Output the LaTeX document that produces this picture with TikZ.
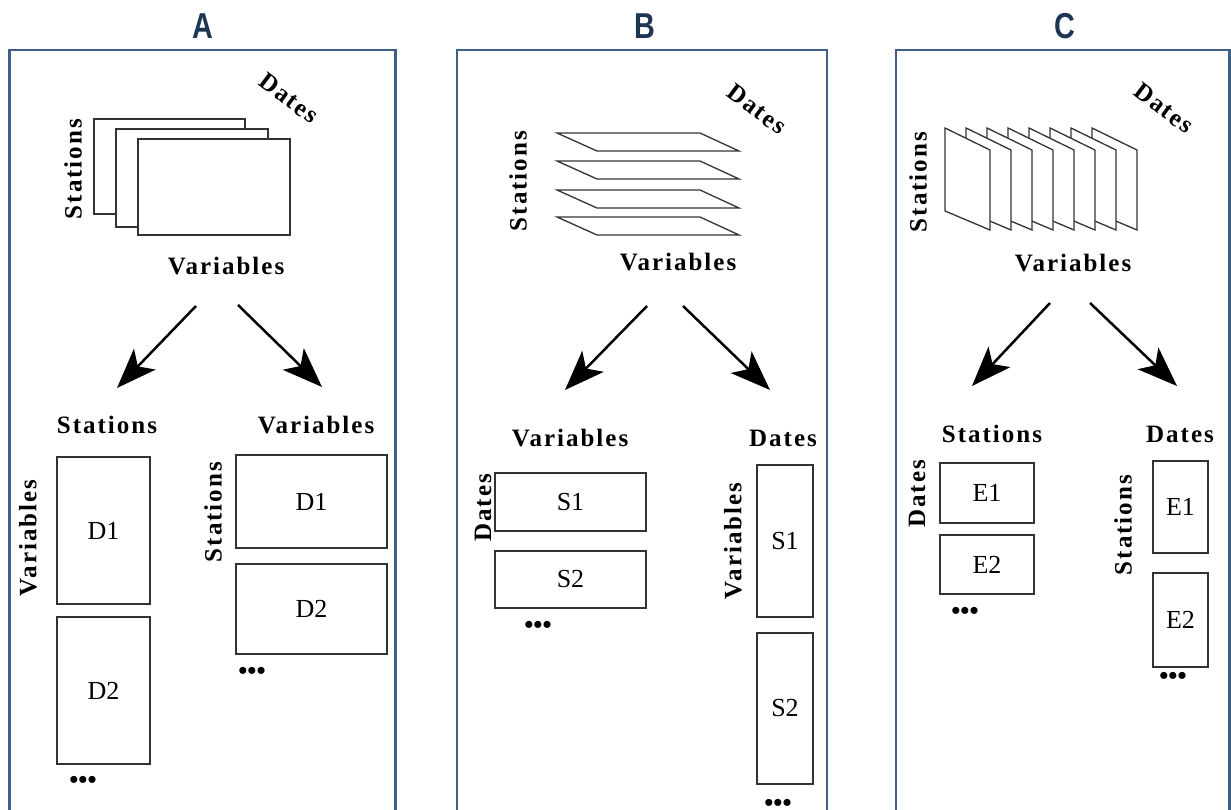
\documentclass[tikz,border=0pt]{standalone}
\usepackage{fontspec}
\setmainfont{Liberation Serif}
\newfontfamily\lblfont[LetterSpace=8]{Liberation Serif}
\newfontfamily\ttlfont{Liberation Sans}
\usetikzlibrary{arrows.meta}
\definecolor{panelblue}{HTML}{3F5F86}
\definecolor{titleblue}{HTML}{1E3553}
\definecolor{boxgray}{HTML}{333333}
\tikzset{
  panel/.style={draw=panelblue, line width=2.5pt},
  ttl/.style={font=\ttlfont\bfseries\fontsize{36}{40}\selectfont, text=titleblue, inner sep=0},
  lbl/.style={font=\lblfont\bfseries\fontsize{25}{28}\selectfont, inner sep=0},
  box/.style={draw=boxgray, line width=1.5pt, inner sep=0, font=\fontsize{26}{28}\selectfont},
  sheet/.style={draw=boxgray, line width=1.3pt, fill=white},
  arr/.style={line width=2.5pt, -{Stealth[length=40pt,width=30pt,inset=10pt]}},
  dotsym/.style={font=\bfseries\fontsize{26}{28}\selectfont, inner sep=0}
}
\begin{document}
\begin{tikzpicture}[x=1pt,y=-1pt]
\path[use as bounding box, clip] (0,0) rectangle (1231,810);
\fill[white] (0,0) rectangle (1231,810);

% ---------- panels and titles ----------
\draw[panel] (9.5,50) rectangle (395.5,840);
\draw[panel] (457,50) rectangle (827,840);
\draw[panel] (896,50) rectangle (1229.5,840);
\node[ttl] (tA) at (203,26) {\scalebox{0.8}[1]{A}};
\node[ttl] (tB) at (645,26) {\scalebox{0.8}[1]{B}};
\node[ttl] (tC) at (1065,26) {\scalebox{0.8}[1]{C}};

% ================= Panel A =================
\draw[sheet] (94,119) rectangle (245,214);
\draw[sheet] (116,129) rectangle (268,227);
\draw[sheet] (138,139) rectangle (290,235);
\node[lbl, rotate=90] (AStTop) at (73,169) {Stations};
\node[lbl, rotate=-37] (ADaTop) at (289,98) {Dates};
\node[lbl] (AVaTop) at (226,266) {Variables};

\coordinate (A1s) at (196,306); \coordinate (A1t) at (117,388);
\coordinate (A2s) at (238,305); \coordinate (A2t) at (322,387);
\draw[arr] (A1s) -- (A1t);
\draw[arr] (A2s) -- (A2t);

\node[lbl] (AStL) at (107,425) {Stations};
\node[lbl] (AVaR) at (316,425) {Variables};
\node[lbl, rotate=90] (AVaRot) at (28,538) {Variables};
\node[lbl, rotate=90] (AStRot) at (213,512) {Stations};

\node[box, minimum width=93, minimum height=147] (AD1L) at (103.5,530.5) {D1};
\node[box, minimum width=93, minimum height=147] (AD2L) at (103.5,690.5) {D2};
\node[box, minimum width=151, minimum height=93] (AD1R) at (311.5,501.5) {D1};
\node[box, minimum width=151, minimum height=90] (AD2R) at (311.5,609) {D2};
\node[dotsym] (AdL) at (83,782) {•••};
\node[dotsym] (AdR) at (252,673) {•••};

% ================= Panel B =================
\foreach \t in {133,161,190,217}{
  \draw[boxgray, line width=1.3pt] (557,\t) -- (700,\t) -- (739,\t+18) -- (597,\t+18) -- cycle;
}
\node[lbl, rotate=90] (BStTop) at (518,181) {Stations};
\node[lbl, rotate=-37] (BDaTop) at (757,109) {Dates};
\node[lbl] (BVaTop) at (678,262) {Variables};

\coordinate (B1s) at (647,306); \coordinate (B1t) at (565,390);
\coordinate (B2s) at (683,306); \coordinate (B2t) at (770,390);
\draw[arr] (B1s) -- (B1t);
\draw[arr] (B2s) -- (B2t);

\node[lbl] (BVaL) at (570,438) {Variables};
\node[lbl] (BDaR) at (783,438) {Dates};
\node[lbl, rotate=90] (BDaRot) at (483,508) {Dates};
\node[lbl, rotate=90] (BVaRot) at (733,541) {Variables};

\node[box, minimum width=151, minimum height=58] (BS1L) at (570.5,502) {S1};
\node[box, minimum width=151, minimum height=57] (BS2L) at (570.5,579.5) {S2};
\node[box, minimum width=56, minimum height=152] (BS1R) at (785,541) {S1};
\node[box, minimum width=56, minimum height=151] (BS2R) at (785,708.5) {S2};
\node[dotsym] (BdL) at (538,627) {•••};
\node[dotsym] (BdR) at (778,805) {•••};

% ================= Panel C =================
\foreach \i in {7,6,...,0}{
  \pgfmathsetmacro{\xx}{945+21*\i}
  \draw[sheet] (\xx,128) -- (\xx+45,150) -- (\xx+45,230) -- (\xx,211) -- cycle;
}
\node[lbl, rotate=90] (CStTop) at (918,182) {Stations};
\node[lbl, rotate=-37] (CDaTop) at (1164,108) {Dates};
\node[lbl] (CVaTop) at (1073,263) {Variables};

\coordinate (C1s) at (1050,303); \coordinate (C1t) at (972,386);
\coordinate (C2s) at (1090,303); \coordinate (C2t) at (1177,386);
\draw[arr] (C1s) -- (C1t);
\draw[arr] (C2s) -- (C2t);

\node[lbl] (CStL) at (992,434) {Stations};
\node[lbl] (CDaR) at (1180,434) {Dates};
\node[lbl, rotate=90] (CDaRot) at (917,494) {Dates};
\node[lbl, rotate=90] (CStRot) at (1123,525) {Stations};

\node[box, minimum width=94, minimum height=60] (CE1L) at (987,493) {E1};
\node[box, minimum width=94, minimum height=59] (CE2L) at (987,564.5) {E2};
\node[box, minimum width=55, minimum height=92] (CE1R) at (1180.5,507) {E1};
\node[box, minimum width=55, minimum height=94] (CE2R) at (1180.5,620) {E2};
\node[dotsym] (CdL) at (965,613) {•••};
\node[dotsym] (CdR) at (1173,678) {•••};
\end{tikzpicture}
\end{document}
